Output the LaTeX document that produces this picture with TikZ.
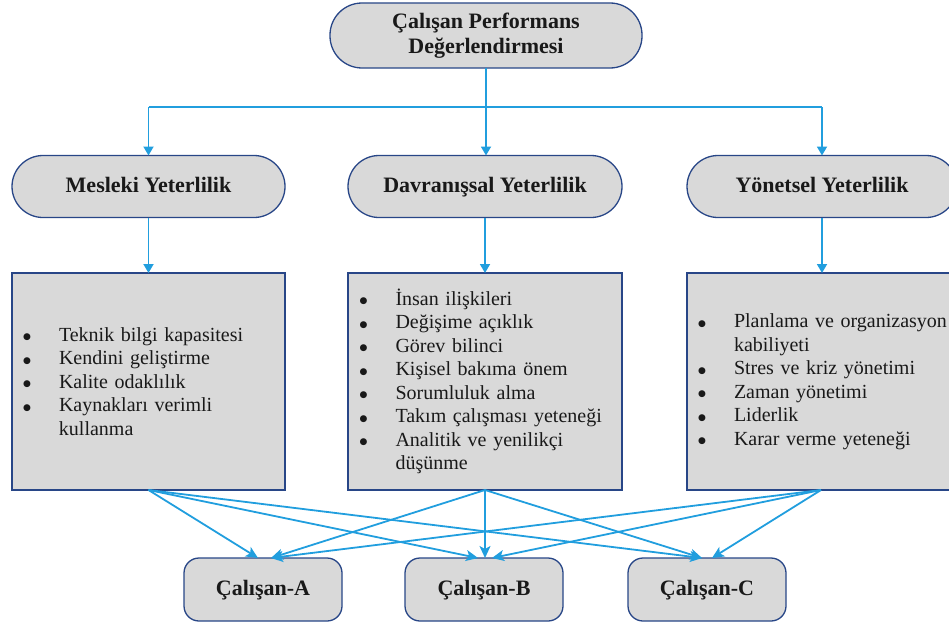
\documentclass[tikz,border=0pt]{standalone}
\usepackage{fontspec}
\setmainfont{Liberation Serif}
\newfontfamily\symfont{DejaVu Sans}
\usetikzlibrary{arrows.meta}
\definecolor{lineblue}{RGB}{33,158,222}
\definecolor{boxfill}{RGB}{217,217,217}
\definecolor{boxdraw}{RGB}{40,70,135}
\newcommand{\mybul}{\makebox[36pt][l]{\raisebox{1.5pt}{\fontsize{9}{9}\symfont ●}}}
\newcommand{\myind}{\hspace*{36pt}}
\begin{document}
\begin{tikzpicture}[x=1pt,y=-1pt,
  every node/.style={inner sep=0pt, outer sep=0pt, text=black!90},
  stadium/.style={draw=boxdraw, line width=1.3pt, fill=boxfill, rounded corners=31pt,
    minimum height=62pt, font=\fontsize{22}{25}\selectfont\bfseries, align=center},
  onerow/.style={text height=16pt, text depth=4pt},
  titlebox/.style={stadium, rounded corners=32pt, minimum width=312pt, minimum height=65pt},
  listbox/.style={draw=boxdraw, line width=1.3pt, fill=boxfill, minimum width=273pt,
    minimum height=217pt, text width=251pt, inner xsep=11pt, align=left,
    font=\fontsize{20}{23.5}\selectfont},
  personbox/.style={draw=boxdraw, line width=1.3pt, fill=boxfill, rounded corners=15pt,
    minimum width=158pt, minimum height=63pt, text height=16pt, text depth=4pt,
    font=\fontsize{22}{25}\selectfont\bfseries},
  conn/.style={draw=lineblue, line width=1.8pt},
  arr/.style={conn, -{Triangle[length=9pt,width=10pt]}},
  barr/.style={draw=lineblue, line width=1.8pt, -{Stealth[length=12pt,width=11pt,inset=3pt]}}
]
\useasboundingbox (0,0) rectangle (949,626);
\clip (0,0) rectangle (949,626);

\node[titlebox] (T) at (486,35.5) {Çalışan Performans\\Değerlendirmesi};

\node[stadium, onerow, minimum width=273pt] (M) at (148.5,186.5) {Mesleki Yeterlilik};
\node[stadium, onerow, minimum width=274pt] (D) at (485,186.5) {Davranışsal Yeterlilik};
\node[stadium, onerow, minimum width=270pt] (Y) at (822,186.5) {Yönetsel Yeterlilik};

\coordinate (hj) at (486,107);
\draw[conn] (M.north |- hj) -- (Y.north |- hj);
\draw[arr] (T.south) -- (D.north -| T.south);
\draw[arr] (M.north |- hj) -- (M.north);
\draw[arr] (Y.north |- hj) -- (Y.north);

\node[listbox] (LM) at (148.5,381.5) {%
\mybul Teknik bilgi kapasitesi\\
\mybul Kendini geliştirme\\
\mybul Kalite odaklılık\\
\mybul Kaynakları verimli\\
\myind kullanma};
\node[listbox, minimum width=274pt] (LD) at (485,381.5) {%
\mybul İnsan ilişkileri\\
\mybul Değişime açıklık\\
\mybul Görev bilinci\\
\mybul Kişisel bakıma önem\\
\mybul Sorumluluk alma\\
\mybul Takım çalışması yeteneği\\
\mybul Analitik ve yenilikçi\\
\myind düşünme};
\node[listbox] (LY) at (823.5,381.5) {%
\mybul Planlama ve organizasyon\\
\myind kabiliyeti\\
\mybul Stres ve kriz yönetimi\\
\mybul Zaman yönetimi\\
\mybul Liderlik\\
\mybul Karar verme yeteneği};

\draw[arr] (M.south) -- (LM.north -| M.south);
\draw[arr] (D.south) -- (LD.north -| D.south);
\draw[arr] (Y.south) -- (LY.north -| Y.south);

\node[personbox] (A) at (263,589.5) {Çalışan-A};
\node[personbox] (B) at (484,589.5) {Çalışan-B};
\node[personbox] (C) at (707,589.5) {Çalışan-C};

\coordinate (LMs) at (148.5,490);
\coordinate (LDs) at (485,490);
\coordinate (LYs) at (821,490);

\draw[barr] (LMs) -- ([xshift=-5pt]A.north);
\draw[barr] (LMs) -- ([xshift=-6pt]B.north);
\draw[barr] (LMs) -- ([xshift=-5pt]C.north);
\draw[barr] (LDs) -- ([xshift=8pt]A.north);
\draw[barr] (LDs) -- ([xshift=1pt]B.north);
\draw[barr] (LDs) -- ([xshift=-5pt]C.north);
\draw[barr] (LYs) -- ([xshift=8pt]A.north);
\draw[barr] (LYs) -- ([xshift=8pt]B.north);
\draw[barr] (LYs) -- ([xshift=5pt]C.north);
\end{tikzpicture}
\end{document}
